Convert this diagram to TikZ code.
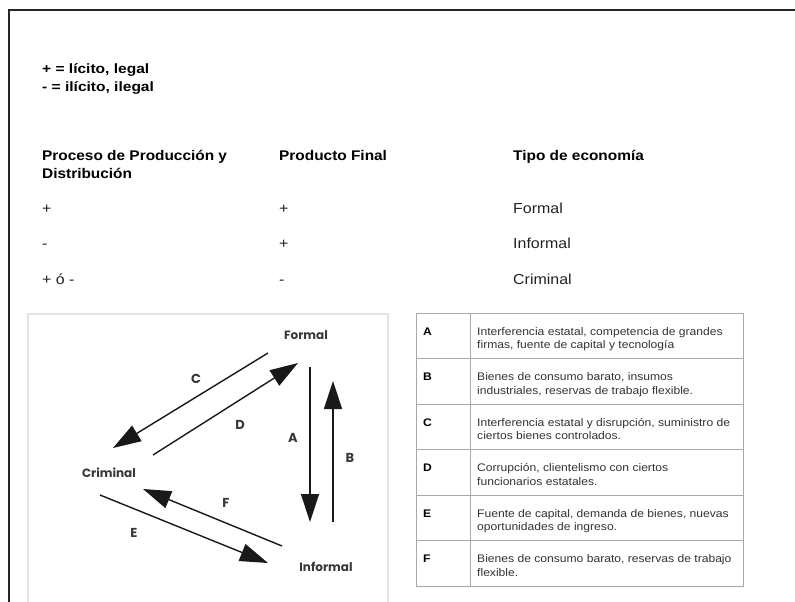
\documentclass[tikz,border=0pt]{standalone}
\usepackage{fontspec}
\usepackage{graphicx}
\setmainfont{Liberation Sans}
\newfontfamily\geo{Poppins}
\usetikzlibrary{arrows.meta}
\newcommand\sx[1]{\scalebox{1.1}[1]{#1}}
\newcommand\sxl[1]{\scalebox{1.15}[1]{#1}}
\definecolor{txt}{HTML}{222222}
\definecolor{tbl}{HTML}{333333}
\definecolor{grid}{HTML}{A8A8A8}
\tikzset{
  legend/.style={anchor=base west, inner sep=0pt, font=\fontsize{13.5}{15}\selectfont\bfseries, text=black},
  head/.style={anchor=base west, inner sep=0pt, font=\fontsize{14}{16}\selectfont\bfseries, text=black},
  cell/.style={anchor=base west, inner sep=0pt, font=\fontsize{14.5}{16}\selectfont, text=txt},
  letter/.style={anchor=base west, inner sep=0pt, font=\fontsize{11}{12}\selectfont\bfseries, text=black},
  desc/.style={anchor=base west, inner sep=0pt, font=\fontsize{11}{12}\selectfont, text=tbl},
  econ/.style={inner sep=0pt, font=\geo\fontsize{12}{14}\selectfont\bfseries, text=black!78},
  lab/.style={inner sep=0pt, font=\geo\fontsize{13}{15}\selectfont\bfseries, text=black!78},
  arr/.style={-{Triangle[length=28pt,width=18pt]}, line width=1.4pt, black!90},
}
\begin{document}
\begin{tikzpicture}[x=1pt,y=-1pt]
\useasboundingbox (0,0) rectangle (795,602);
\fill[white] (0,0) rectangle (795,602);
% outer frame
\draw[line width=2pt, black!85] (9,602) -- (9,10) -- (795,10);

% legend
\node[legend] (l1) at (42,74) {\sxl{+ = lícito, legal}};
\node[legend] (l2) at (42,92) {\sxl{- = ilícito, ilegal}};

% headers
\node[head] (h1a) at (42,160) {\sx{Proceso de Producción y}};
\node[head] (h1b) at (42,178) {\sx{Distribución}};
\node[head] (h2) at (279,160) {\sx{Producto Final}};
\node[head] (h3) at (513,160) {\sx{Tipo de economía}};

% rows
\node[cell] (r1a) at (42,213) {\sx{+}};
\node[cell] (r1b) at (279,213) {\sx{+}};
\node[cell] (r1c) at (513,213) {\sx{Formal}};
\node[cell] (r2a) at (42,248) {\sx{-}};
\node[cell] (r2b) at (279,248) {\sx{+}};
\node[cell] (r2c) at (513,248) {\sx{Informal}};
\node[cell] (r3a) at (42,284) {\sx{+ ó -}};
\node[cell] (r3b) at (279,284) {\sx{-}};
\node[cell] (r3c) at (513,284) {\sx{Criminal}};

% diagram image box
\draw[black!10, line width=1.5pt] (28,606) -- (28,314) -- (388,314) -- (388,606);

\node[econ] (formal) at (306,335) {Formal};
\node[econ] (criminal) at (109,473) {Criminal};
\node[econ] (informal) at (326,567) {Informal};

\coordinate (cS) at (268,353);
\coordinate (cE) at (113,448);
\coordinate (dS) at (153,455);
\coordinate (dE) at (298,363);
\coordinate (aS) at (310,367);
\coordinate (aE) at (310,522);
\coordinate (bS) at (333,522);
\coordinate (bE) at (333,381);
\coordinate (fS) at (282,546);
\coordinate (fE) at (143,489);
\coordinate (eS) at (100,495);
\coordinate (eE) at (268,563);

\draw[arr] (cS) -- (cE);
\draw[arr] (dS) -- (dE);
\draw[arr] (aS) -- (aE);
\draw[arr] (bS) -- (bE);
\draw[arr] (fS) -- (fE);
\draw[arr] (eS) -- (eE);

\node[lab] (lc) at (196,379) {C};
\node[lab] (ld) at (240,425) {D};
\node[lab] (la) at (293,438) {A};
\node[lab] (lb) at (350,458) {B};
\node[lab] (lf) at (226,503) {F};
\node[lab] (le) at (134,533) {E};

% table
\draw[grid, line width=1pt] (416,313) rectangle (743,586);
\draw[grid, line width=1pt] (470,313) -- (470,586);
\foreach \i in {1,...,5} {
  \draw[grid, line width=1pt] (416,313+45.5*\i) -- (743,313+45.5*\i);
}
\node[letter] (ta) at (423,335) {\sx{A}};
\node[desc] (ta1) at (477,335) {\sx{Interferencia estatal, competencia de grandes}};
\node[desc] (ta2) at (477,348.5) {\sx{firmas, fuente de capital y tecnología}};

\node[letter] (tb) at (423,380.5) {\sx{B}};
\node[desc] (tb1) at (477,380.5) {\sx{Bienes de consumo barato, insumos}};
\node[desc] (tb2) at (477,394) {\sx{industriales, reservas de trabajo flexible.}};

\node[letter] (tc) at (423,426) {\sx{C}};
\node[desc] (tc1) at (477,426) {\sx{Interferencia estatal y disrupción, suministro de}};
\node[desc] (tc2) at (477,439.5) {\sx{ciertos bienes controlados.}};

\node[letter] (td) at (423,471.5) {\sx{D}};
\node[desc] (td1) at (477,471.5) {\sx{Corrupción, clientelismo con ciertos}};
\node[desc] (td2) at (477,485) {\sx{funcionarios estatales.}};

\node[letter] (te) at (423,517) {\sx{E}};
\node[desc] (te1) at (477,517) {\sx{Fuente de capital, demanda de bienes, nuevas}};
\node[desc] (te2) at (477,530.5) {\sx{oportunidades de ingreso.}};

\node[letter] (tf) at (423,562.5) {\sx{F}};
\node[desc] (tf1) at (477,562.5) {\sx{Bienes de consumo barato, reservas de trabajo}};
\node[desc] (tf2) at (477,576) {\sx{flexible.}};
\end{tikzpicture}
\end{document}
